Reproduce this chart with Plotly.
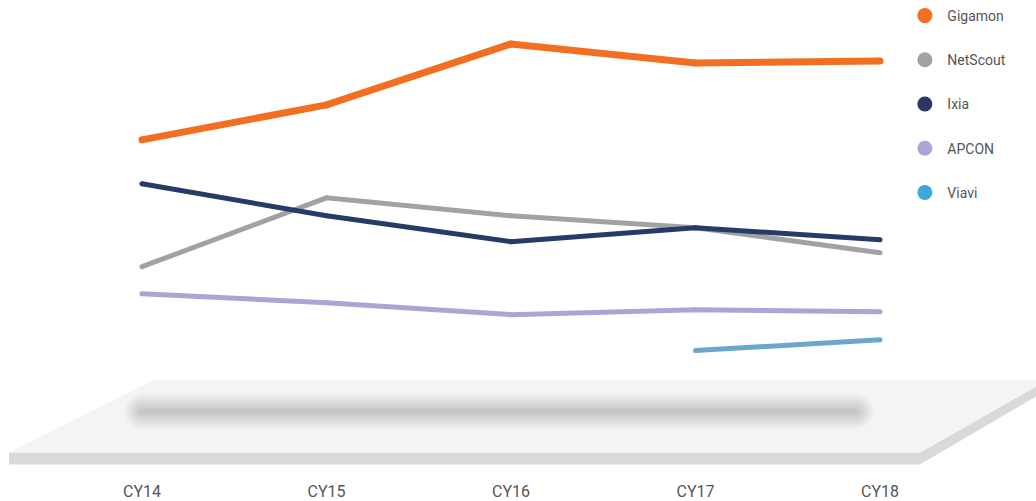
import plotly.graph_objects as go

years = ["CY14", "CY15", "CY16", "CY17", "CY18"]
gigamon = [26.0, 29.5, 35.6, 33.7, 33.9]
netscout = [13.3, 20.2, 18.4, 17.2, 14.7]
ixia = [21.6, 18.4, 15.8, 17.2, 16.0]
apcon = [10.6, 9.7, 8.5, 9.0, 8.8]
viavi = [None, None, None, 4.9, 6.0]

series = [
    ("Gigamon", gigamon, "#F26F21", "#F26F21", 7),
    ("NetScout", netscout, "#A2A2A4", "#A2A2A4", 5),
    ("Ixia", ixia, "#263B68", "#2C3767", 5),
    ("APCON", apcon, "#A9A5D4", "#A9A5D4", 5),
    ("Viavi", viavi, "#6BA6CF", "#3CA8DC", 5),
]

W, H = 1036, 501
MB = 30
PH = 467.5  # effective plot height as rendered

fig = go.Figure()

for name, vals, lc, mc, w in series:
    fig.add_trace(go.Scatter(
        x=years, y=vals, mode="lines+markers", name=name, showlegend=False,
        line=dict(color=lc, width=w), marker=dict(color=lc, size=w, line=dict(width=0)),
        hoverinfo="skip", connectgaps=False,
    ))
for i, (name, vals, lc, mc, w) in enumerate(series):
    fig.add_trace(go.Scatter(
        x=[None], y=[None], mode="markers", name=name, legendgroup=str(i),
        marker=dict(color=mc, size=15),
    ))


def px(x):
    return x / W


def py(y):
    return 1 - y / PH


def poly(pts):
    return "M " + " L ".join(f"{px(x):.5f},{py(y):.5f}" for x, y in pts) + " Z"


shapes = []
# platform side (dark)
shapes.append(dict(type="path", xref="paper", yref="paper", layer="below",
                   path=poly([(9, 453), (920, 453), (1036, 387), (1036, 397), (920, 465), (9, 465)]),
                   fillcolor="#D9D9D9", line=dict(width=0)))
# platform top
shapes.append(dict(type="path", xref="paper", yref="paper", layer="below",
                   path=poly([(153, 381), (1036, 381), (1036, 387), (920, 453), (9, 453)]),
                   fillcolor="#F4F4F4", line=dict(width=0)))


def stadium(x1, x2, c, h):
    k = 0.552 * h
    segs = [
        f"M {px(x1):.5f},{py(c - h):.5f}",
        f"L {px(x2):.5f},{py(c - h):.5f}",
        f"C {px(x2 + k):.5f},{py(c - h):.5f} {px(x2 + h):.5f},{py(c - k):.5f} {px(x2 + h):.5f},{py(c):.5f}",
        f"C {px(x2 + h):.5f},{py(c + k):.5f} {px(x2 + k):.5f},{py(c + h):.5f} {px(x2):.5f},{py(c + h):.5f}",
        f"L {px(x1):.5f},{py(c + h):.5f}",
        f"C {px(x1 - k):.5f},{py(c + h):.5f} {px(x1 - h):.5f},{py(c + k):.5f} {px(x1 - h):.5f},{py(c):.5f}",
        f"C {px(x1 - h):.5f},{py(c - k):.5f} {px(x1 - k):.5f},{py(c - h):.5f} {px(x1):.5f},{py(c - h):.5f}",
        "Z",
    ]
    return " ".join(segs)


for i in range(24):
    h = 1.0 + i * 0.75
    shapes.append(dict(type="path", xref="paper", yref="paper", layer="below",
                       path=stadium(142, 856, 412, h),
                       fillcolor="rgba(0,0,0,0.0065)", line=dict(width=0)))

fig.update_layout(
    width=W, height=H,
    margin=dict(l=0, r=0, t=0, b=MB),
    paper_bgcolor="white", plot_bgcolor="rgba(0,0,0,0)",
    shapes=shapes,
    xaxis=dict(type="category", range=[-0.7696, 4.8455], showgrid=False, zeroline=False,
               showline=False, ticks="", tickfont=dict(family="Roboto", size=16, color="#555555"),
               ticklabelstandoff=13, fixedrange=True),
    yaxis=dict(range=[40 - PH / 10, 40], visible=False, fixedrange=True),
    legend=dict(x=0.871, y=1.0, xanchor="left", yanchor="top", tracegroupgap=23,
                font=dict(family="Roboto", size=14, color="#555555"), bgcolor="rgba(0,0,0,0)",
                itemwidth=35),
    showlegend=True,
)

fig.write_html("out.html", config={"displayModeBar": False},
               post_script="document.body.style.margin='0';document.body.style.overflow='hidden';")
